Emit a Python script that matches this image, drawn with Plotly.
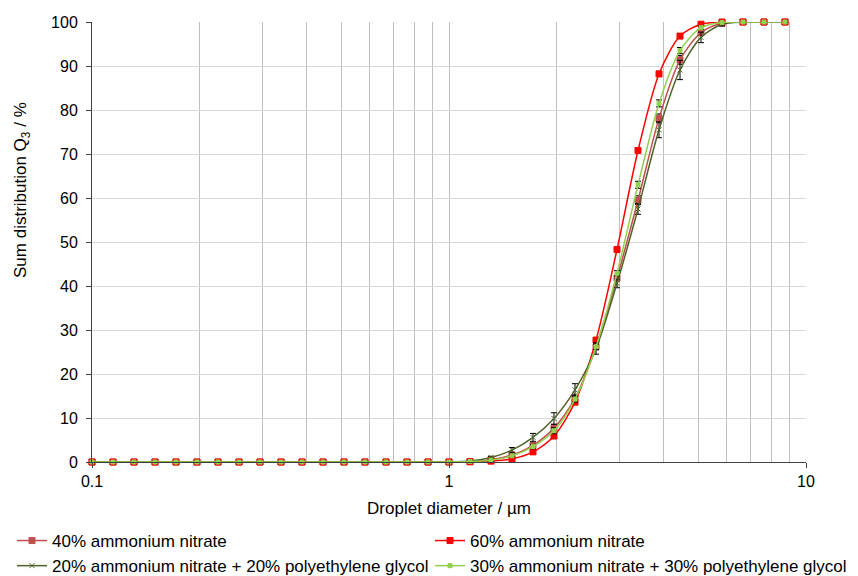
import plotly.graph_objects as go

# Droplet diameter classes (µm), log-spaced 0.1 ... 8.73
diameters = [0.1, 0.1145, 0.1311, 0.1501, 0.1719, 0.1968, 0.2254, 0.2581, 0.2955,
             0.3384, 0.3875, 0.4437, 0.5080, 0.5817, 0.6661, 0.7627, 0.8733,
             1.0, 1.145, 1.311, 1.501, 1.719, 1.968, 2.254, 2.581, 2.955,
             3.384, 3.875, 4.437, 5.080, 5.817, 6.661, 7.627, 8.733]

zeros = [0.0] * 17

an40 = zeros + [0, 0.1, 0.5, 1.6, 3.8, 7.7, 14.5, 26.2, 41.8, 59.5, 78.1, 91.4, 97.6, 99.7, 100, 100, 100]
an60 = zeros + [0, 0.05, 0.2, 0.7, 2.3, 5.9, 13.6, 27.7, 48.3, 70.8, 88.2, 96.8, 99.5, 100, 100, 100, 100]
an20_peg20 = zeros + [0, 0.2, 1.0, 2.7, 5.6, 9.9, 16.4, 25.8, 40.6, 57.5, 75.5, 89.1, 96.5, 99.5, 100, 100, 100]
an30_peg30 = zeros + [0, 0.1, 0.4, 1.4, 3.5, 7.1, 14.3, 26.2, 42.9, 63.0, 81.5, 93.5, 98.7, 99.9, 100, 100, 100]

err40 = zeros + [0, 0, 0.2, 0.4, 0.6, 0.8, 0.8, 0.6, 0.6, 1.0, 1.0, 1.0, 0.6, 0.2, 0, 0, 0]
err60 = zeros + [0, 0, 0.1, 0.2, 0.3, 0.4, 0.5, 0.5, 0.5, 0.5, 0.6, 0.5, 0.3, 0.1, 0, 0, 0]
err20 = zeros + [0, 0.1, 0.3, 0.6, 0.9, 1.3, 1.4, 1.3, 1.0, 1.2, 1.8, 2.2, 1.2, 0.4, 0, 0, 0]
err30 = zeros + [0, 0, 0.2, 0.3, 0.5, 0.7, 0.7, 0.6, 0.6, 0.8, 0.8, 0.7, 0.4, 0.1, 0, 0, 0]

names = ["40% ammonium nitrate", "60% ammonium nitrate",
         "20% ammonium nitrate + 20% polyethylene glycol",
         "30% ammonium nitrate + 30% polyethylene glycol"]
series = [an40, an60, an20_peg20, an30_peg30]
errors = [err40, err60, err20, err30]
colors = ["#C0504D", "#FF0000", "#4F6228", "#92D050"]
symbols = ["square", "square", "x-thin-open", "square"]
msizes = [6, 6, 5, 4]
legend_ids = ["legend", "legend2", "legend", "legend2"]

fig = go.Figure()
for name, y, e, c, s, ms, lg in zip(names, series, errors, colors, symbols, msizes, legend_ids):
    fig.add_trace(go.Scatter(
        x=diameters, y=y, name=name, mode="lines+markers", legend=lg,
        line=dict(color=c, width=1.5, shape="spline", smoothing=0.8),
        marker=dict(symbol=s, size=ms, color=c, line=dict(color=c, width=1)),
        error_y=dict(type="data", array=e, color="black", thickness=1, width=3),
        cliponaxis=False,
    ))

minor_vals = [0.2, 0.3, 0.4, 0.5, 0.6, 0.7, 0.8, 0.9, 2, 3, 4, 5, 6, 7, 8, 9]

legend_common = dict(
    orientation="v", xref="container", yref="container",
    xanchor="left", yanchor="top", y=1 - 523 / 576,
    font=dict(size=17), itemwidth=30, tracegroupgap=0,
    bgcolor="rgba(0,0,0,0)",
)

fig.update_layout(
    width=858, height=576,
    margin=dict(l=92, r=52, t=22, b=114, autoexpand=False),
    paper_bgcolor="white", plot_bgcolor="white",
    font=dict(family="Liberation Sans, Arial, sans-serif", size=16, color="black"),
    showlegend=True,
    legend=dict(x=12 / 858, **legend_common),
    legend2=dict(x=430 / 858, **legend_common),
    annotations=[dict(
        text="Sum distribution Q<sub>3</sub> / %", textangle=-90,
        xref="paper", yref="paper", x=-70 / 714, y=(462 - 190) / 440,
        xanchor="center", yanchor="middle", showarrow=False,
        font=dict(size=17),
    )],
)

fig.update_xaxes(
    type="log", range=[-1, 1], automargin=False,
    tickvals=[0.1, 1, 10], ticktext=["0.1", "1", "10"],
    showgrid=True, gridcolor="#BFBFBF", gridwidth=1.3,
    minor=dict(tickvals=minor_vals, showgrid=True, gridcolor="#BFBFBF", gridwidth=1.3, ticks=""),
    showline=True, linecolor="#404040", linewidth=1,
    ticks="outside", ticklen=5, tickcolor="#404040",
    zeroline=False,
    title=dict(text="Droplet diameter / µm", font=dict(size=17), standoff=12),
)
fig.update_yaxes(
    range=[0, 100], dtick=10, automargin=False,
    showgrid=True, gridcolor="#D9D9D9", gridwidth=1.3,
    showline=True, linecolor="#404040", linewidth=1,
    ticks="outside", ticklen=5, tickcolor="#404040", ticklabelstandoff=5,
    zeroline=False,
)

fig.write_html("out.html")
